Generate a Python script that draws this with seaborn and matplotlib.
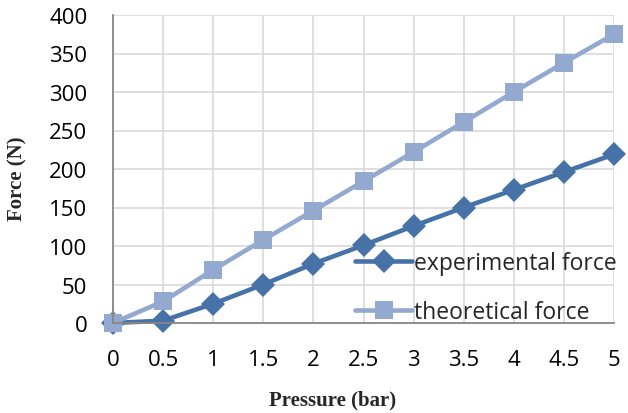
import matplotlib
matplotlib.use("Agg")
import matplotlib.pyplot as plt
import seaborn as sns
import pandas as pd

# Pressure steps (bar) and measured / computed cylinder force (N)
pressure = [0, 0.5, 1, 1.5, 2, 2.5, 3, 3.5, 4, 4.5, 5]
experimental_force = [0, 3, 25, 50, 77, 101, 126, 150, 173, 196, 219]
theoretical_force = [0, 28, 69, 108, 146, 184, 222, 261, 300, 338, 375]

x_ticks = [0, 0.5, 1, 1.5, 2, 2.5, 3, 3.5, 4, 4.5, 5]
y_ticks = [0, 50, 100, 150, 200, 250, 300, 350, 400]

df = pd.DataFrame({
    "Pressure": pressure * 2,
    "Force": experimental_force + theoretical_force,
    "series": ["experimental force"] * len(pressure) + ["theoretical force"] * len(pressure),
})

sns.set_theme(style="white")
plt.rcParams["font.family"] = ["Open Sans", "DejaVu Sans"]

fig = plt.figure(figsize=(6.28, 4.14), dpi=100)
ax = fig.add_axes([113 / 628, 1 - 324 / 414, 501 / 628, 308 / 414])

palette = {"experimental force": "#4672A8", "theoretical force": "#93A9CF"}
markers = {"experimental force": "D", "theoretical force": "s"}
sizes = {"experimental force": 12, "theoretical force": 13}

for name in ["experimental force", "theoretical force"]:
    sub = df[df["series"] == name]
    sns.lineplot(
        data=sub, x="Pressure", y="Force", ax=ax,
        color=palette[name], marker=markers[name], markersize=sizes[name],
        markeredgewidth=0, linewidth=3.3, label=name, clip_on=False,
    )

ax.set_xlim(0, 5)
ax.set_ylim(0, 400)
ax.set_xticks(x_ticks)
ax.set_xticklabels([f"{v:g}" for v in x_ticks])
ax.set_yticks(y_ticks)
ax.grid(True, color="#d9d9d9", linewidth=1.2)
ax.set_axisbelow(True)

for side in ["top", "right"]:
    ax.spines[side].set_visible(False)
for side in ["left", "bottom"]:
    ax.spines[side].set_color("#868686")
    ax.spines[side].set_linewidth(1.3)

ax.tick_params(axis="both", length=0, labelsize=16, colors="black")
ax.tick_params(axis="y", pad=18.5)
ax.tick_params(axis="x", pad=18.5)

serif = {"family": ["Liberation Serif", "DejaVu Serif"], "weight": "bold", "size": 15}
ax.set_xlabel("Pressure (bar)", fontdict=serif, va="center")
ax.set_ylabel("Force (N)", fontdict=serif, va="center")
ax.xaxis.set_label_coords(0.439, -0.247)
ax.yaxis.set_label_coords(-0.19, 0.47)

leg = ax.legend(
    loc="center left", bbox_to_anchor=(0.484, 0.115), frameon=False,
    fontsize=16.5, handlelength=2.45, handletextpad=0.12, labelspacing=1.1,
    borderaxespad=0, borderpad=0,
)

fig.savefig("out.png", dpi=100, facecolor="white")
